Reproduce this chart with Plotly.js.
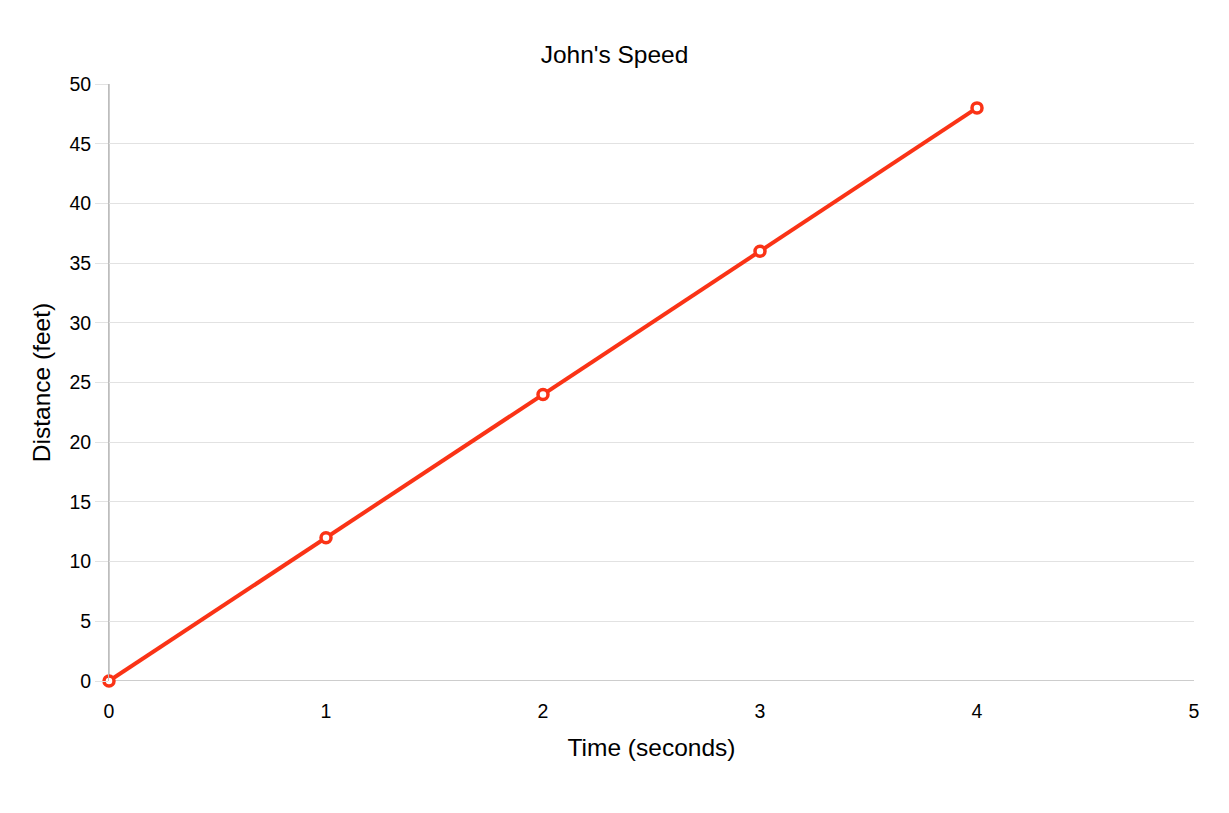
<!DOCTYPE html>
<html><head><meta charset="utf-8">
<script src="https://cdn.plot.ly/plotly-3.0.1.min.js"></script>
<style>html,body{margin:0;padding:0;background:#fff}#chart{width:1229px;height:813px}</style>
</head><body><div id="chart"></div>
<script>
const timeSeconds = [0, 1, 2, 3, 4];
const distanceFeet = [0, 12, 24, 36, 48];
const xTicks = [0, 1, 2, 3, 4, 5];
const yTicks = [0, 5, 10, 15, 20, 25, 30, 35, 40, 45, 50];

const font = "Liberation Sans, Arial, Helvetica, sans-serif";
Plotly.newPlot('chart', [{
  x: timeSeconds, y: distanceFeet, type: 'scatter', mode: 'lines+markers',
  line: {color: '#fa3316', width: 4},
  marker: {size: 10, color: '#ffffff', line: {color: '#fa3316', width: 3.5}},
  cliponaxis: false, hoverinfo: 'x+y'
}], {
  width: 1229, height: 813,
  margin: {l: 109, r: 35, t: 84, b: 132},
  paper_bgcolor: '#fff', plot_bgcolor: '#fff',
  showlegend: false,
  font: {family: font, color: '#000'},
  title: {text: "John's Speed", font: {size: 24.5, family: font, color: '#000'}, x: 0.5, xanchor: 'center', y: 1 - 54/813, yanchor: 'middle'},
  xaxis: {
    range: [0, 5], tickvals: xTicks, ticktext: xTicks.map(String),
    showgrid: false, zeroline: false, showline: false,
    ticks: '', tickfont: {size: 19.5, family: font}, ticklabelstandoff: 16,
    title: {text: 'Time (seconds)', font: {size: 24.5, family: font}, standoff: 18}
  },
  yaxis: {
    range: [0, 50], tickvals: yTicks, ticktext: yTicks.map(String),
    showgrid: true, gridcolor: '#e2e2e2', gridwidth: 1,
    zeroline: false, showline: true, linecolor: '#bdbdbd', linewidth: 1,
    ticks: 'outside', ticklen: 13, tickcolor: '#e2e2e2', tickwidth: 1,
    tickfont: {size: 19.5, family: font},
    title: {text: 'Distance (feet)', font: {size: 24.5, family: font}, standoff: 11}
  },
  shapes: [
    {type: 'line', xref: 'paper', yref: 'y', x0: 0, x1: 1, y0: 0, y1: 0, line: {color: '#bdbdbd', width: 1.5}, layer: 'below'},
    {type: 'line', xref: 'x', yref: 'y', x0: 0, x1: 0, y0: 0, y1: 50, line: {color: '#bdbdbd', width: 1.5}, layer: 'below'}
  ]
}, {displayModeBar: false, staticPlot: true});
</script></body></html>
